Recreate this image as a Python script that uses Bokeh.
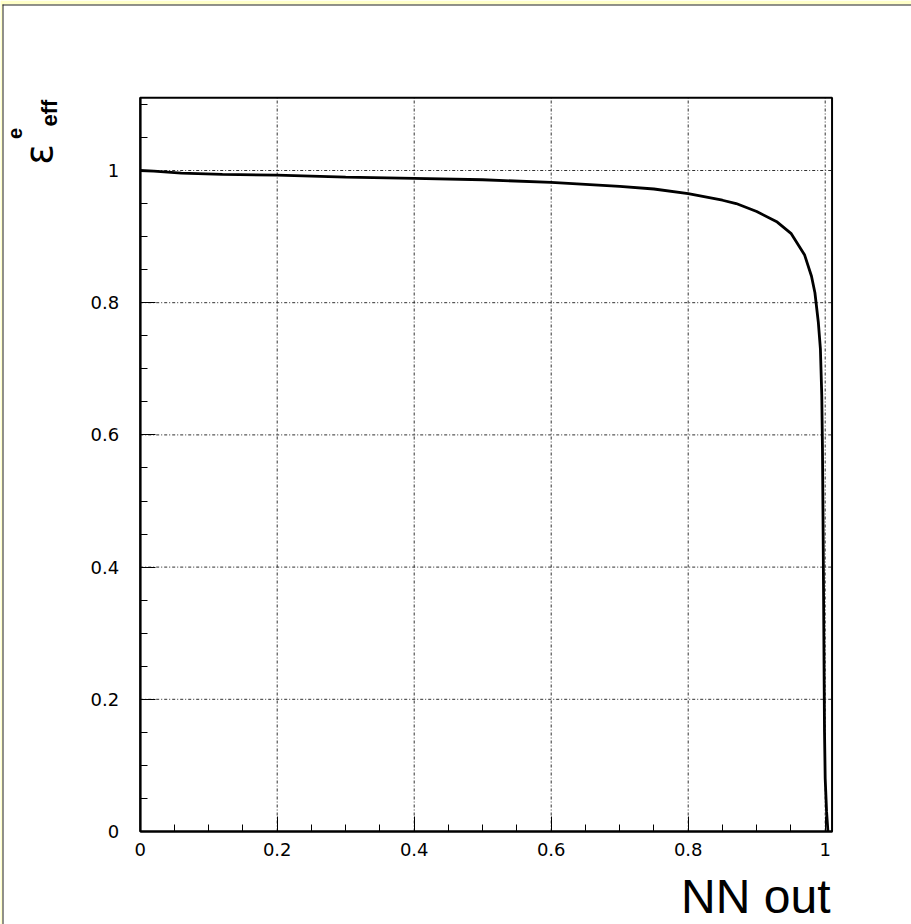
import math
from bokeh.plotting import figure
from bokeh.models import (FixedTicker, PrintfTickFormatter, Label, BoxAnnotation,
                          Range1d, LinearAxis)
from bokeh.embed import file_html
from bokeh.resources import INLINE

# ---- data ----
nn_cut = [0.0, 0.02, 0.06, 0.12, 0.2, 0.3, 0.4, 0.5, 0.6, 0.7, 0.75, 0.8, 0.85, 0.87,
          0.9, 0.93, 0.95, 0.97, 0.98, 0.985, 0.99, 0.993, 0.995, 0.996, 0.997,
          0.998, 0.999, 1.0, 1.002, 1.004]
eff_e = [1.0, 0.999, 0.996, 0.994, 0.993, 0.990, 0.988, 0.986, 0.982, 0.976, 0.972,
         0.965, 0.955, 0.950, 0.938, 0.922, 0.905, 0.872, 0.840, 0.815, 0.77, 0.73,
         0.66, 0.58, 0.45, 0.30, 0.15, 0.08, 0.03, 0.0]
x_major = [0, 0.2, 0.4, 0.6, 0.8, 1.0]
x_minor = [i * 0.05 for i in range(0, 21)]
y_major = [0, 0.2, 0.4, 0.6, 0.8, 1.0]
y_minor = [i * 0.05 for i in range(0, 23)]
x_label = "NN out"
X_END = 1.01
Y_END = 1.11

# ---- layout (pixels) ----
W, H = 911, 924
X0_PX, X_SCALE = 139.7, 685.0   # pixel of x=0, pixels per unit
Y0_PX, Y_SCALE = 831.0, 661.0   # pixel of y=0, pixels per unit


def dx(px):
    return (px - X0_PX) / X_SCALE


def dy(py):
    return (Y0_PX - py) / Y_SCALE


FONT = "Liberation Sans"
TICK_FONT = "DejaVu Sans"

p = figure(width=W, height=H, output_backend="svg", toolbar_location=None,
           x_range=Range1d(dx(0), dx(W)), y_range=Range1d(dy(H), dy(0)),
           x_axis_type=None, y_axis_type=None,
           min_border=0, min_border_left=0, min_border_right=0,
           min_border_top=0, min_border_bottom=0)
p.background_fill_color = "white"
p.border_fill_color = "white"
p.outline_line_color = None

# grid lines (dash-dot) at major ticks
gx = [t for t in x_major if t > 0]
gy = [t for t in y_major if t > 0]
p.segment(x0=gx, y0=[0] * len(gx), x1=gx, y1=[Y_END] * len(gx),
          line_color="#303030", line_dash="3 2 1 2", line_width=1)
p.segment(x0=[0] * len(gy), y0=gy, x1=[X_END] * len(gy), y1=gy,
          line_color="#303030", line_dash="3 2 1 2", line_width=1)

# frame box
p.quad(left=[0], right=[X_END], bottom=[0], top=[Y_END], fill_color=None,
       line_color="black", line_width=2)

# curve
p.line(nn_cut, eff_e, line_color="black", line_width=2.8)

xax = LinearAxis(fixed_location=0, bounds=(0, X_END))
yax = LinearAxis(fixed_location=0, bounds=(0, Y_END))
p.add_layout(xax, "below")
p.add_layout(yax, "left")

for ax, major, minor in ((xax, x_major, x_minor), (yax, y_major, y_minor)):
    ax.ticker = FixedTicker(ticks=major, minor_ticks=minor)
    ax.formatter = PrintfTickFormatter(format="%g")
    ax.axis_line_width = 2
    ax.axis_line_color = "black"
    ax.major_tick_in = 15
    ax.major_tick_out = 0
    ax.minor_tick_in = 7
    ax.minor_tick_out = 0
    ax.major_tick_line_color = "black"
    ax.minor_tick_line_color = "black"
    ax.major_label_text_font = TICK_FONT
    ax.major_label_text_font_size = "18px"
    ax.major_label_text_color = "black"

xax.major_label_standoff = 11
yax.major_label_standoff = 21

# axis titles
p.add_layout(Label(x=dx(830), y=dy(922), text=x_label, text_font=FONT,
                   text_font_size="48px", text_align="right", text_baseline="bottom",
                   text_color="black"))
p.add_layout(Label(x=dx(38), y=dy(154), text="ε", text_font="DejaVu Sans",
                   text_font_size="38px", angle=math.pi / 2, text_align="center",
                   text_baseline="middle", text_color="black"))
p.add_layout(Label(x=dx(14), y=dy(133), text="e", text_font=FONT, text_font_style="bold",
                   text_font_size="20px", angle=math.pi / 2, text_align="center",
                   text_baseline="middle", text_color="black"))
p.add_layout(Label(x=dx(48.5), y=dy(112.5), text="eff", text_font=FONT,
                   text_font_style="bold", text_font_size="22px", angle=math.pi / 2,
                   text_align="center", text_baseline="middle", text_color="black"))

# window edge decoration (yellow strip and dark edge at top/left)
for l, r, t, b, c in ((0, W, 0, 4, "#FFFFC8"), (0, 2, 0, H, "#FFFFC8"),
                      (2, W, 4, 5, "#222222"), (2, 3, 4, H, "#222222")):
    p.add_layout(BoxAnnotation(left=dx(l), right=dx(r), top=dy(t), bottom=dy(b),
                               fill_color=c, fill_alpha=1.0, line_alpha=0))

open("out.html", "w").write(file_html(p, INLINE))
